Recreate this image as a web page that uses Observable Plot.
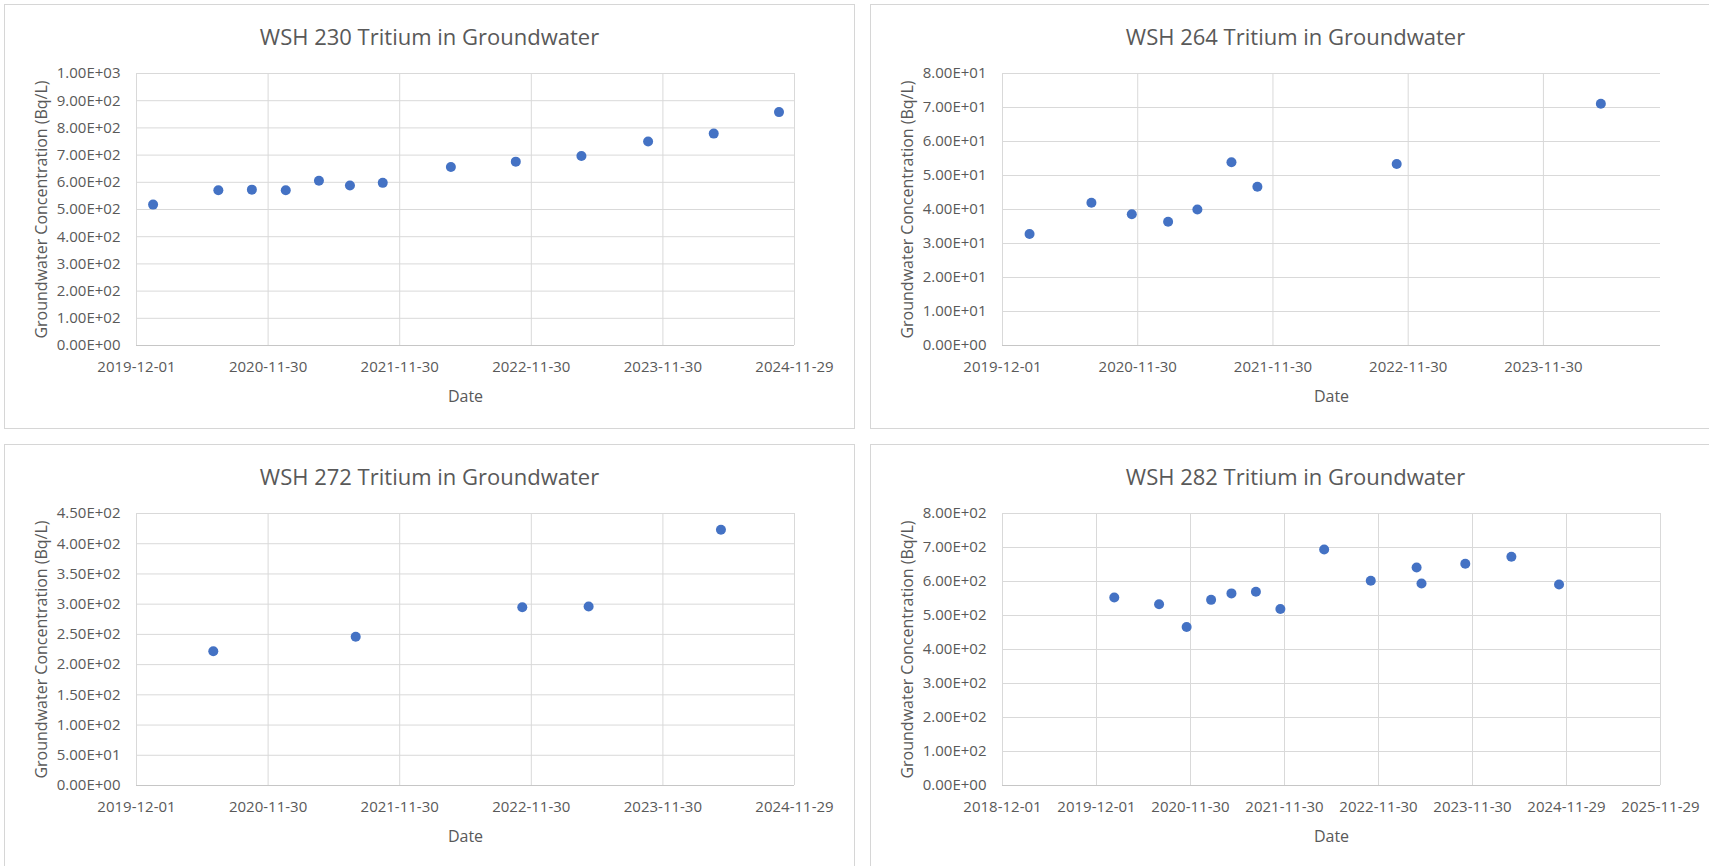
<!DOCTYPE html>
<html>
<head>
<meta charset="utf-8">
<script src="https://cdn.jsdelivr.net/npm/d3@7"></script>
<script src="https://cdn.jsdelivr.net/npm/@observablehq/plot@0.6"></script>
<style>
  html, body { margin: 0; padding: 0; background: #fff; }
  body { width: 1709px; height: 866px; overflow: hidden; position: relative; font-family: "Open Sans", sans-serif; }
  .panel { position: absolute; width: 851px; height: 425px; box-sizing: border-box; border: 1px solid #d6d6d6; background: #fff; }
  .title { position: absolute; left: 0; top: 20px; width: 100%; text-align: center; font-size: 22px; line-height: 22px; color: #595959; white-space: nowrap; }
  .chart { position: absolute; left: 0; top: 59px; }
</style>
</head>
<body>
<script>
// ---- Data ----
const titles = ["WSH 230 Tritium in Groundwater", "WSH 264 Tritium in Groundwater", "WSH 272 Tritium in Groundwater", "WSH 282 Tritium in Groundwater"];

const dates230 = ["2020-01-16","2020-07-15","2020-10-16","2021-01-18","2021-04-20","2021-07-15","2021-10-14","2022-04-21","2022-10-18","2023-04-18","2023-10-20","2024-04-19","2024-10-17"];
const values230 = [518, 571, 573, 571, 606, 588, 598, 656, 676, 697, 750, 779, 858];

const dates264 = ["2020-02-12","2020-07-28","2020-11-14","2021-02-20","2021-05-10","2021-08-10","2021-10-19","2022-10-30","2024-05-03"];
const values264 = [32.8, 42.0, 38.6, 36.4, 40.0, 53.9, 46.7, 53.4, 71.1];

const dates272 = ["2020-07-01","2021-07-31","2022-11-05","2023-05-08","2024-05-09"];
const values272 = [222, 246, 295, 296, 423];

const dates282 = ["2020-02-08","2020-07-31","2020-11-15","2021-02-18","2021-05-08","2021-08-11","2021-11-14","2022-05-03","2022-10-31","2023-04-27","2023-05-16","2023-11-02","2024-04-29","2024-10-31"];
const values282 = [553, 533, 466, 546, 565, 570, 519, 694, 602, 641, 594, 652, 673, 591];

// Axis ticks
const xTicksA = ["2019-12-01","2020-11-30","2021-11-30","2022-11-30","2023-11-30","2024-11-29"];
const xTicks264 = ["2019-12-01","2020-11-30","2021-11-30","2022-11-30","2023-11-30"];
const xTicks282 = ["2018-12-01","2019-12-01","2020-11-30","2021-11-30","2022-11-30","2023-11-30","2024-11-29","2025-11-29"];
const xDomain230 = ["2019-12-01","2024-11-29"];
const xDomain264 = ["2019-12-01","2024-10-11"];
const xDomain272 = ["2019-12-01","2024-11-29"];
const xDomain282 = ["2018-12-01","2025-11-29"];

const yTicks230 = [0, 100, 200, 300, 400, 500, 600, 700, 800, 900, 1000];
const yTicks264 = [0, 10, 20, 30, 40, 50, 60, 70, 80];
const yTicks272 = [0, 50, 100, 150, 200, 250, 300, 350, 400, 450];
const yTicks282 = [0, 100, 200, 300, 400, 500, 600, 700, 800];

const xLabel = "Date";
const yLabel = "Groundwater Concentration (Bq/L)";

// ---- Helpers ----
const parse = d3.utcParse("%Y-%m-%d");
const fmtDate = d3.utcFormat("%Y-%m-%d");
const fmtSci = v => {
  const s = Number(v).toExponential(2).toUpperCase();
  return s.replace(/E([+-])(\d)$/, "E$10$2");
};

const panels = [
  {title: titles[0], dates: dates230, values: values230, xTicks: xTicksA, xDomain: xDomain230, yTicks: yTicks230, left: 4, top: 4},
  {title: titles[1], dates: dates264, values: values264, xTicks: xTicks264, xDomain: xDomain264, yTicks: yTicks264, left: 870, top: 4},
  {title: titles[2], dates: dates272, values: values272, xTicks: xTicksA, xDomain: xDomain272, yTicks: yTicks272, left: 4, top: 444},
  {title: titles[3], dates: dates282, values: values282, xTicks: xTicks282, xDomain: xDomain282, yTicks: yTicks282, left: 870, top: 444}
];

const textColor = "#595959";
const gridColor = "#d9d9d9";
const dotColor = "#4472c4";

for (const p of panels) {
  const div = document.createElement("div");
  div.className = "panel";
  div.style.left = p.left + "px";
  div.style.top = p.top + "px";
  document.body.appendChild(div);

  const t = document.createElement("div");
  t.className = "title";
  t.textContent = p.title;
  div.appendChild(t);

  const data = p.dates.map((d, i) => ({date: parse(d), value: p.values[i]}));
  const xt = p.xTicks.map(parse);
  const yMax = p.yTicks[p.yTicks.length - 1];

  const chart = Plot.plot({
    width: 849,
    height: 364,
    marginTop: 9,
    marginBottom: 83,
    marginLeft: 131,
    marginRight: 60,
    style: {fontFamily: "'Open Sans', sans-serif", color: textColor, background: "transparent", overflow: "visible"},
    x: {type: "utc", domain: p.xDomain.map(parse)},
    y: {domain: [0, yMax]},
    marks: [
      Plot.ruleY(p.yTicks, {stroke: gridColor, strokeWidth: 1}),
      Plot.ruleX(xt, {stroke: gridColor, strokeWidth: 1}),
      Plot.ruleY([0], {stroke: "#c6c6c6", strokeWidth: 1.2}),
      // tick labels
      Plot.axisY({ticks: p.yTicks, tickFormat: fmtSci, tickSize: 0, tickPadding: 16, fontSize: 15, label: null}),
      Plot.axisX({ticks: xt, tickFormat: fmtDate, tickSize: 0, tickPadding: 16, fontSize: 15, label: null}),
      // axis titles
      Plot.axisY({ticks: [], tickSize: 0, fontSize: 16,
        label: yLabel, labelAnchor: "center", labelOffset: 101, labelArrow: "none"}),
      Plot.axisX({ticks: [], tickSize: 0, fontSize: 16,
        label: xLabel, labelAnchor: "center", labelOffset: 56, labelArrow: "none"}),
      Plot.dot(data, {x: "date", y: "value", r: 5, fill: dotColor, stroke: "none"})
    ]
  });
  chart.classList.add("chart");
  div.appendChild(chart);
}
</script>
</body>
</html>
